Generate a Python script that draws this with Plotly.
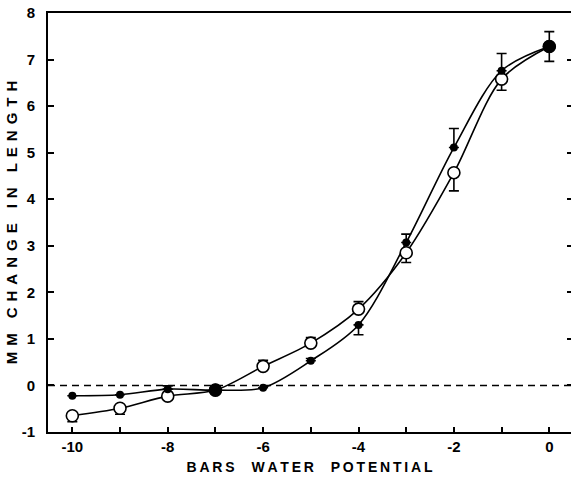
import plotly.graph_objects as go

# ---- data ----
potential = [-10, -9, -8, -7, -6, -5, -4, -3, -2, -1, 0]

filled_vals = [-0.22, -0.20, -0.08, -0.10, -0.05, 0.53, 1.30, 3.07, 5.11, 6.76, 7.28]
filled_err_up = [None, None, 0.07, None, None, 0.05, 0, 0.18, 0.41, 0.37, 0.32]
filled_err_down = [None, None, 0, None, None, 0, 0.21, 0, 0, 0, 0.32]
filled_big = [False, False, False, True, False, False, False, False, False, False, True]

open_vals = [-0.65, -0.49, -0.23, -0.10, 0.41, 0.91, 1.64, 2.85, 4.57, 6.58, 7.28]
open_err_up = [0, 0, None, None, 0.13, 0.12, 0.16, 0, 0, 0, None]
open_err_down = [0.13, 0.13, None, None, 0, 0, 0, 0.21, 0.39, 0.24, None]

x_ticks = [-10, -9, -8, -7, -6, -5, -4, -3, -2, -1, 0]
x_ticktext = ["-10", "", "-8", "", "-6", "", "-4", "", "-2", "", "0"]
y_ticks = [-1, 0, 1, 2, 3, 4, 5, 6, 7, 8]
y_ticktext = ["-1", "0", "1", "2", "3", "4", "5", "6", "7", "8"]

x_title_words = ["BARS", "WATER", "POTENTIAL"]
y_title_words = ["MM", "CHANGE", "IN", "LENGTH"]

FONT = "Liberation Sans"
THIN = "\u2009"


def spaced(words, letter_gap, word_gap):
    return word_gap.join(letter_gap.join(w) for w in words)


fig = go.Figure()

# connecting curves
fig.add_trace(go.Scatter(x=potential, y=open_vals, mode="lines",
                         line=dict(color="black", width=1.6, shape="spline", smoothing=0.9),
                         hoverinfo="skip", showlegend=False))
fig.add_trace(go.Scatter(x=potential, y=filled_vals, mode="lines",
                         line=dict(color="black", width=1.6, shape="spline", smoothing=0.9),
                         hoverinfo="skip", showlegend=False))

# open circles
fig.add_trace(go.Scatter(
    x=potential, y=open_vals, mode="markers",
    marker=dict(symbol="circle", size=12, color="white", opacity=1,
                line=dict(color="black", width=1.6)),
    error_y=dict(type="data", symmetric=False, array=open_err_up, arrayminus=open_err_down,
                 color="black", thickness=1.6, width=5),
    showlegend=False))

# filled circles
fig.add_trace(go.Scatter(
    x=potential, y=filled_vals, mode="markers",
    marker=dict(symbol="circle", size=[13 if b else 8 for b in filled_big], color="black",
                opacity=1, line=dict(color="black", width=0)),
    error_y=dict(type="data", symmetric=False, array=filled_err_up, arrayminus=filled_err_down,
                 color="black", thickness=1.6, width=5),
    showlegend=False))

# invisible trace for the right-hand tick axis
fig.add_trace(go.Scatter(x=[None], y=[None], yaxis="y2", showlegend=False, hoverinfo="skip"))

fig.add_shape(type="line", xref="paper", x0=0, x1=1, yref="y", y0=0, y1=0,
              line=dict(color="black", width=1.5, dash="7px,5px"), layer="below")

tickfont = dict(family=FONT, size=15, color="black", weight="bold")

fig.update_layout(
    width=571, height=478,
    margin=dict(l=48, r=0, t=13, b=46, autoexpand=False),
    paper_bgcolor="white", plot_bgcolor="white",
    xaxis=dict(range=[-10.51, 0.455], tickvals=x_ticks, ticktext=x_ticktext,
               ticks="inside", ticklen=5, tickwidth=1.5, tickcolor="black",
               showline=True, linecolor="black", linewidth=2, mirror=True,
               showgrid=False, zeroline=False, tickfont=tickfont,
               automargin=False,
               title=dict(text=spaced(x_title_words, THIN, "\u2002\u2002\u2009"),
                          font=dict(family=FONT, size=14, color="black", weight="bold"),
                          standoff=8)),
    yaxis=dict(range=[-1, 8], tickvals=y_ticks, ticktext=y_ticktext,
               ticks="inside", ticklen=6, tickwidth=1.5, tickcolor="black",
               showline=True, linecolor="black", linewidth=2,
               showgrid=False, zeroline=False, tickfont=tickfont,
               ticklabelstandoff=8, automargin=False,
               title=dict(text=spaced(y_title_words, THIN + THIN, "\u2002\u2002"),
                          font=dict(family=FONT, size=15, color="black", weight="bold"),
                          standoff=0)),
    yaxis2=dict(range=[-1, 8], tickvals=y_ticks, overlaying="y", side="right",
                ticks="inside", ticklen=4, tickwidth=1.5, tickcolor="black",
                showticklabels=False, showline=False, showgrid=False, zeroline=False,
                automargin=False),
)

fig.write_html("out.html", config={"displayModeBar": False},
               post_script="document.body.style.margin='0px';")
